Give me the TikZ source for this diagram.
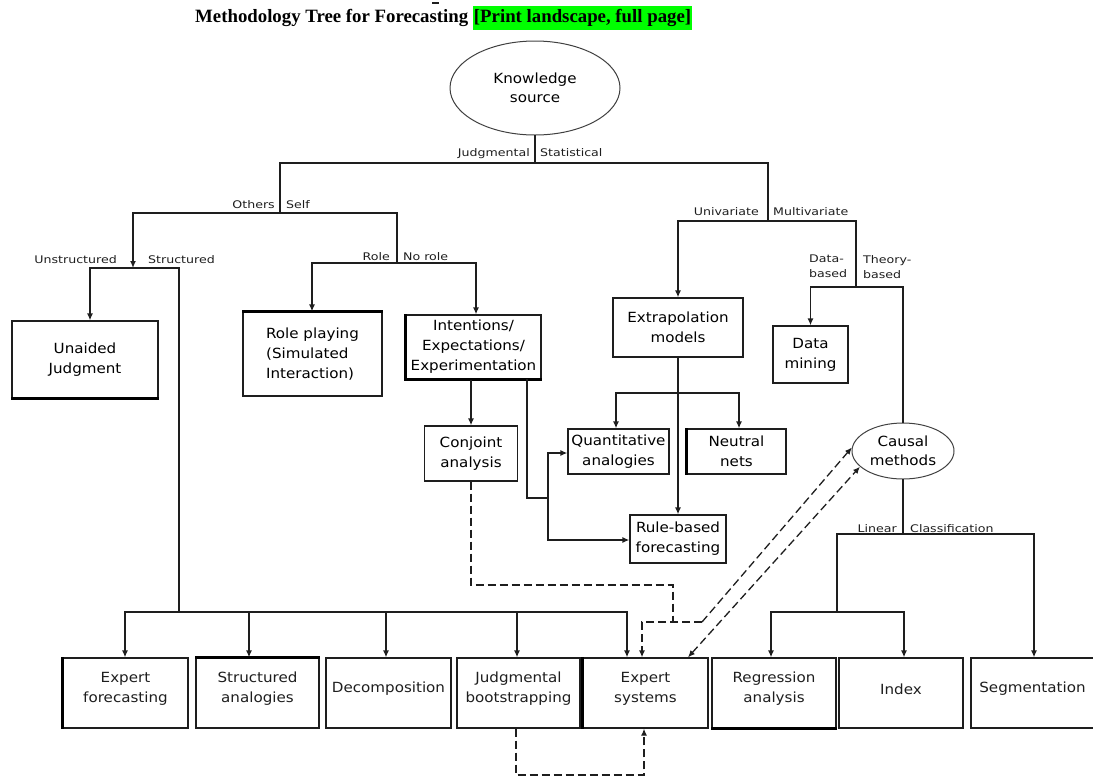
\documentclass[tikz,border=0pt]{standalone}
\usepackage{fontspec}
\setmainfont{DejaVu Sans}
\newfontfamily\boxfont[FakeStretch=1.08]{DejaVu Sans}
\newfontfamily\lblfont[FakeStretch=1.2]{DejaVu Sans}
\newfontfamily\titlefont{Liberation Serif}
\usetikzlibrary{arrows.meta,shapes.geometric}
\definecolor{hlgreen}{RGB}{0,255,0}
\definecolor{ink}{RGB}{30,30,30}
\tikzset{
  box/.style={draw=ink, line width=1.3pt, inner sep=1pt, align=center,
    font=\boxfont\fontsize{14}{20}\selectfont},
  boxtxt/.style={inner sep=0pt, align=center, text=ink,
    font=\boxfont\fontsize{14}{20}\selectfont},
  ell/.style={ellipse, draw=ink!85, line width=1pt, inner sep=0pt, align=center,
    font=\boxfont\fontsize{14}{19.5}\selectfont},
  wire/.style={draw=ink, line width=1.3pt, line cap=rect},
  arr/.style={draw=ink, line width=1.3pt, -{Latex[length=7pt,width=6pt]}},
  dashwire/.style={draw=ink, line width=1.3pt, dash pattern=on 8pt off 4pt},
  darr/.style={dashwire, -{Latex[length=7pt,width=6pt]}},
  lbl/.style={font=\lblfont\fontsize{10.5}{15}\selectfont, inner sep=0pt, text=ink},
  thickside/.style={draw=black, line width=2.6pt},
}
\begin{document}
\begin{tikzpicture}[x=1pt,y=-1pt]
\useasboundingbox (0,0) rectangle (1093,777);

% title
\node[anchor=base west, inner sep=0pt, font=\titlefont\bfseries\fontsize{18.8}{22}\selectfont] (title) at (195,22)
  {Methodology Tree for Forecasting {\fboxsep=1pt\colorbox{hlgreen}{\strut[Print landscape, full page]}}};
\draw[line width=2pt, ink] (432,3) -- (439,3);

% nodes
\node[ell, minimum width=170pt, minimum height=94pt] (ks) at (535,88) {Knowledge\\source};
\node[box, minimum width=146pt, minimum height=77pt] (unaided) at (85,359.5) {Unaided\\Judgment};
\node[box, minimum width=139pt, minimum height=84pt, align=left] (role) at (312.5,354) {Role playing\\(Simulated\\Interaction)};
\node[box, minimum width=135pt, minimum height=64pt] (intent) at (473.5,347) {Intentions/\\Expectations/\\Experimentation};
\node[box, minimum width=93pt, minimum height=55pt] (conj) at (471,453.5) {Conjoint\\analysis};
\node[box, minimum width=130pt, minimum height=59pt] (extrap) at (678,327.5) {Extrapolation\\models};
\node[box, minimum width=75pt, minimum height=57pt] (dm) at (810.5,354.5) {Data\\mining};
\node[box, minimum width=101pt, minimum height=45pt] (quant) at (618.5,451.5) {Quantitative\\analogies};
\node[box, minimum width=99pt, minimum height=45pt] (neutral) at (736.5,451.5) {Neutral\\nets};
\node[box, minimum width=96pt, minimum height=48pt] (rule) at (678,539) {Rule-based\\forecasting};
\node[ell, minimum width=102pt, minimum height=56pt] (causal) at (903,451) {Causal\\methods};

\node[box, minimum width=125pt, minimum height=70pt] (expfor) at (125.5,693) {};
\node[box, minimum width=123pt, minimum height=70pt] (struct) at (257.5,693) {};
\node[box, minimum width=125pt, minimum height=70pt] (decomp) at (388.5,693) {};
\node[box, minimum width=123pt, minimum height=70pt] (judg) at (518.5,693) {};
\node[box, minimum width=125pt, minimum height=70pt] (expsys) at (645.5,693) {};
\node[box, minimum width=124pt, minimum height=70pt] (regress) at (774,693) {};
\node[box, minimum width=124pt, minimum height=70pt] (index) at (901,693) {};
\node[box, minimum width=123pt, minimum height=70pt] (segment) at (1032.5,693) {};
\node[boxtxt] (expfor-t) at ([yshift=4pt]expfor.center) {Expert\\forecasting};
\node[boxtxt] (struct-t) at ([yshift=4pt]struct.center) {Structured\\analogies};
\node[boxtxt] (decomp-t) at ([yshift=4pt]decomp.center) {Decomposition};
\node[boxtxt] (judg-t) at ([yshift=4pt]judg.center) {Judgmental\\bootstrapping};
\node[boxtxt] (expsys-t) at ([yshift=4pt]expsys.center) {Expert\\systems};
\node[boxtxt] (regress-t) at ([yshift=4pt]regress.center) {Regression\\analysis};
\node[boxtxt] (index-t) at ([yshift=4pt]index.center) {Index};
\node[boxtxt] (segment-t) at ([yshift=4pt]segment.center) {Segmentation};

% thick sides
\draw[thickside] (unaided.south west) -- (unaided.south east);
\draw[thickside] (role.north west) -- (role.north east);
\draw[thickside] (intent.north west) -- (intent.south west) -- (intent.south east);
\draw[thickside] (neutral.north west) -- (neutral.south west);
\draw[thickside] (expfor.north west) -- (expfor.south west);
\draw[thickside] (struct.north west) -- (struct.north east);
\draw[thickside] (expsys.north west) -- (expsys.south west);
\draw[thickside] (regress.south west) -- (regress.south east);

% junction coordinates
\coordinate (k1) at (535,163);
\coordinate (jL) at (280,163);
\coordinate (jR) at (768,163);
\coordinate (o1) at (280,213);
\coordinate (oL) at (133,213);
\coordinate (oR) at (397,213);
\coordinate (u1) at (133,268);
\coordinate (uL) at (90,268);
\coordinate (uR) at (179,268);
\coordinate (bus0) at (179,612);
\coordinate (b1) at (125,612);
\coordinate (b2) at (249,612);
\coordinate (b3) at (386,612);
\coordinate (b4) at (517,612);
\coordinate (b5) at (627,612);
\coordinate (s1) at (397,263);
\coordinate (sL) at (312,263);
\coordinate (sR) at (476,263);
\coordinate (iX) at (527,498);
\coordinate (iY) at (548,498);
\coordinate (qa) at (548,453);
\coordinate (rb) at (548,540);
\coordinate (m1) at (768,221);
\coordinate (mL) at (678,221);
\coordinate (mR) at (856,221);
\coordinate (t1) at (856,287);
\coordinate (tL) at (810.5,287);
\coordinate (tR) at (903,287);
\coordinate (eL) at (616,393);
\coordinate (eR) at (739,393);
\coordinate (c1) at (903,534);
\coordinate (cL) at (837,534);
\coordinate (cR) at (1034,534);
\coordinate (cL2) at (837,612);
\coordinate (rL) at (771,612);
\coordinate (rR) at (904,612);
\coordinate (dA) at (471,585);
\coordinate (dC) at (673,622);
\coordinate (dD) at (702,622);
\coordinate (dE) at (642,622);
\coordinate (dF) at (516,775);
\coordinate (dG) at (644,775);

% solid connectors
\draw[wire] (ks.south) -- (k1);
\draw[wire] (jL) -- (jR);
\draw[wire] (jL) -- (o1);
\draw[wire] (oL) -- (oR);
\draw[arr] (oL) -- (u1);
\draw[wire] (uL) -- (uR);
\draw[arr] (uL) -- (uL |- unaided.north);
\draw[wire] (uR) -- (bus0);
\draw[wire] (b1) -- (b5);
\draw[arr] (b1) -- (b1 |- expfor.north);
\draw[arr] (b2) -- (b2 |- struct.north);
\draw[arr] (b3) -- (b3 |- decomp.north);
\draw[arr] (b4) -- (b4 |- judg.north);
\draw[arr] (b5) -- (b5 |- expsys.north);
\draw[wire] (oR) -- (s1);
\draw[wire] (sL) -- (sR);
\draw[arr] (sL) -- (sL |- role.north);
\draw[arr] (sR) -- (sR |- intent.north);
\draw[arr] (conj.north |- intent.south) -- (conj.north);
\draw[wire] (iX |- intent.south) -- (iX) -- (iY);
\draw[wire] (qa) -- (rb);
\draw[arr] (qa) -- (qa -| quant.west);
\draw[arr] (rb) -- (rb -| rule.west);
\draw[wire] (jR) -- (m1);
\draw[wire] (mL) -- (mR);
\draw[arr] (mL) -- (extrap.north);
\draw[arr] (extrap.south) -- (rule.north);
\draw[wire] (eL) -- (eR);
\draw[arr] (eL) -- (eL |- quant.north);
\draw[arr] (eR) -- (eR |- neutral.north);
\draw[wire] (mR) -- (t1);
\draw[wire] (tL) -- (tR);
\draw[arr] (tL) -- (dm.north);
\draw[wire] (tR) -- (causal.north);
\draw[wire] (causal.south) -- (c1);
\draw[wire] (cL) -- (cR);
\draw[wire] (cL) -- (cL2);
\draw[wire] (rL) -- (rR);
\draw[arr] (rL) -- (rL |- regress.north);
\draw[arr] (rR) -- (rR |- index.north);
\draw[arr] (cR) -- (cR |- segment.north);

% dashed connectors
\draw[dashwire] (conj.south) -- (dA) -| (dC);
\draw[darr] (dD) -- (dE) -- (dE |- expsys.north);
\draw[darr] (dD) -- (causal.176);
\draw[dashwire, {Latex[length=7pt,width=6pt]}-{Latex[length=7pt,width=6pt]}] ([xshift=42.5pt]expsys.north) -- (causal.200);
\draw[darr] (judg.south -| dF) -- (dF) -- (dG) -- (dG |- expsys.south);

% branch labels
\node[lbl, anchor=base east] (tJ) at (530,156) {Judgmental};
\node[lbl, anchor=base west] (tS) at (540,156) {Statistical};
\node[lbl, anchor=base east] (tO) at (275,208) {Others};
\node[lbl, anchor=base west] (tSe) at (286,208) {Self};
\node[lbl, anchor=base east] (tU) at (117,263) {Unstructured};
\node[lbl, anchor=base west] (tSt) at (148,263) {Structured};
\node[lbl, anchor=base east] (tRo) at (390,260) {Role};
\node[lbl, anchor=base west] (tN) at (403,260) {No role};
\node[lbl, anchor=base east] (tUn) at (759,215) {Univariate};
\node[lbl, anchor=base west] (tM) at (773,215) {Multivariate};
\node[lbl, anchor=north west, align=left] (tD) at (809,255) {Data-\\based};
\node[lbl, anchor=north west, align=left] (tT) at (863,255) {Theory-\\based};
\node[lbl, anchor=base east] (tLi) at (897,532) {Linear};
\node[lbl, anchor=base west] (tC) at (910,532) {Classification};
\end{tikzpicture}
\end{document}
